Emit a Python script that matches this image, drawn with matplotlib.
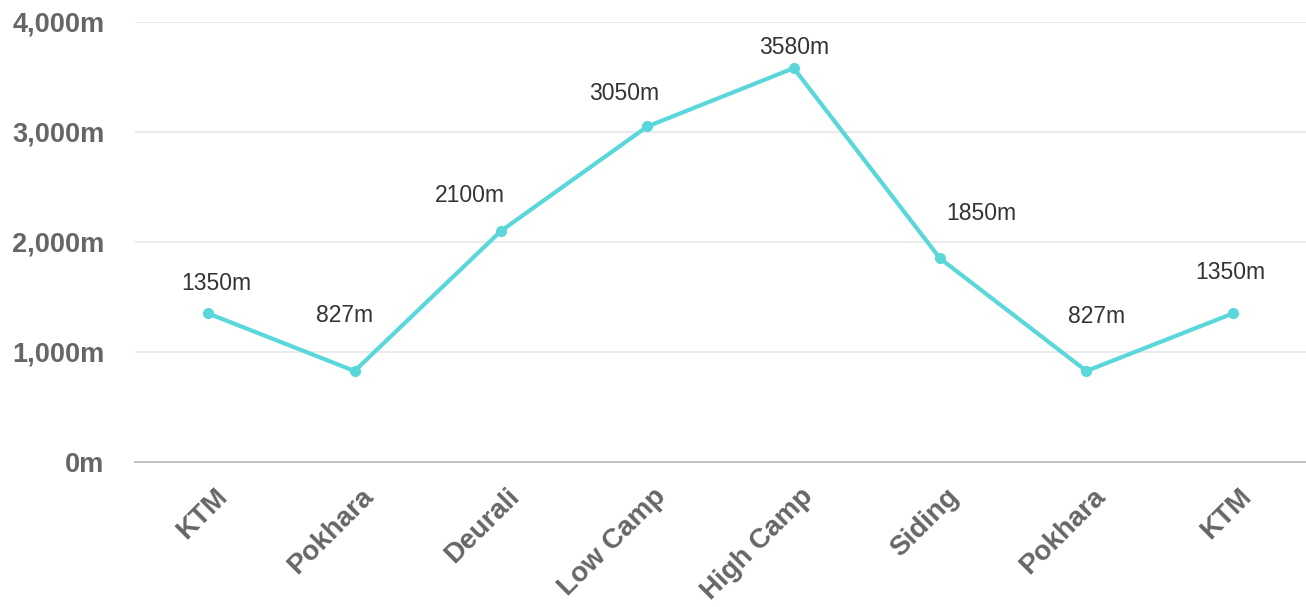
import matplotlib
matplotlib.use('Agg')
from matplotlib import pyplot as plt
from matplotlib import transforms
from matplotlib.ticker import FuncFormatter

places = ['KTM', 'Pokhara', 'Deurali', 'Low Camp', 'High Camp', 'Siding', 'Pokhara', 'KTM']
altitude = [1350, 827, 2100, 3050, 3580, 1850, 827, 1350]
y_ticks = [0, 1000, 2000, 3000, 4000]

# label offsets in pixels (dx, dy) from each point
label_offsets = [(8, 30), (-10, 56), (-31, 35), (-23, 33), (0, 21), (41, 45), (10, 55), (-3, 41)]

plt.rcParams['font.family'] = ['Liberation Sans', 'DejaVu Sans']

fig = plt.figure(figsize=(13.06, 6.07), dpi=100)
ax = fig.add_axes([0.1034, 0.2389, 0.8966, 0.7249])

x = list(range(len(places)))
ax.plot(x, altitude, color='#5ad7da', linewidth=3.0, marker='o', markersize=7,
        solid_joinstyle='round', zorder=3, clip_on=False)

for i, (v, (dx, dy)) in enumerate(zip(altitude, label_offsets)):
    ax.annotate(f'{v}m', (i, v), xytext=(dx, dy), textcoords='offset pixels',
                ha='center', va='center', fontsize=16.5, color='#333333')

ax.set_xlim(-0.5, len(places) - 0.5)
ax.set_ylim(0, 4000)
ax.set_yticks(y_ticks)
ax.yaxis.set_major_formatter(FuncFormatter(lambda v, p: f'{int(v):,}m'))
ax.set_xticks(x)
ax.set_xticklabels(places)

ax.grid(axis='y', color='#e6e6e6', linewidth=1.2)
ax.set_axisbelow(True)
for s in ['top', 'right', 'left']:
    ax.spines[s].set_visible(False)
ax.spines['bottom'].set_color('#bdbdbd')
ax.spines['bottom'].set_linewidth(1.3)

ax.tick_params(axis='y', length=0, pad=22, labelsize=19.5, labelcolor='#666666')
ax.tick_params(axis='x', length=0, pad=22, labelsize=20, labelcolor='#666666')
for lbl in ax.get_yticklabels():
    lbl.set_fontweight('bold')
shift = transforms.ScaledTranslation(0.15, 0, fig.dpi_scale_trans)
for lbl in ax.get_xticklabels():
    lbl.set_fontweight('bold')
    lbl.set_rotation(45)
    lbl.set_ha('right')
    lbl.set_va('center')
    lbl.set_rotation_mode('anchor')
    lbl.set_transform(lbl.get_transform() + shift)

fig.savefig('out.png', dpi=100)
